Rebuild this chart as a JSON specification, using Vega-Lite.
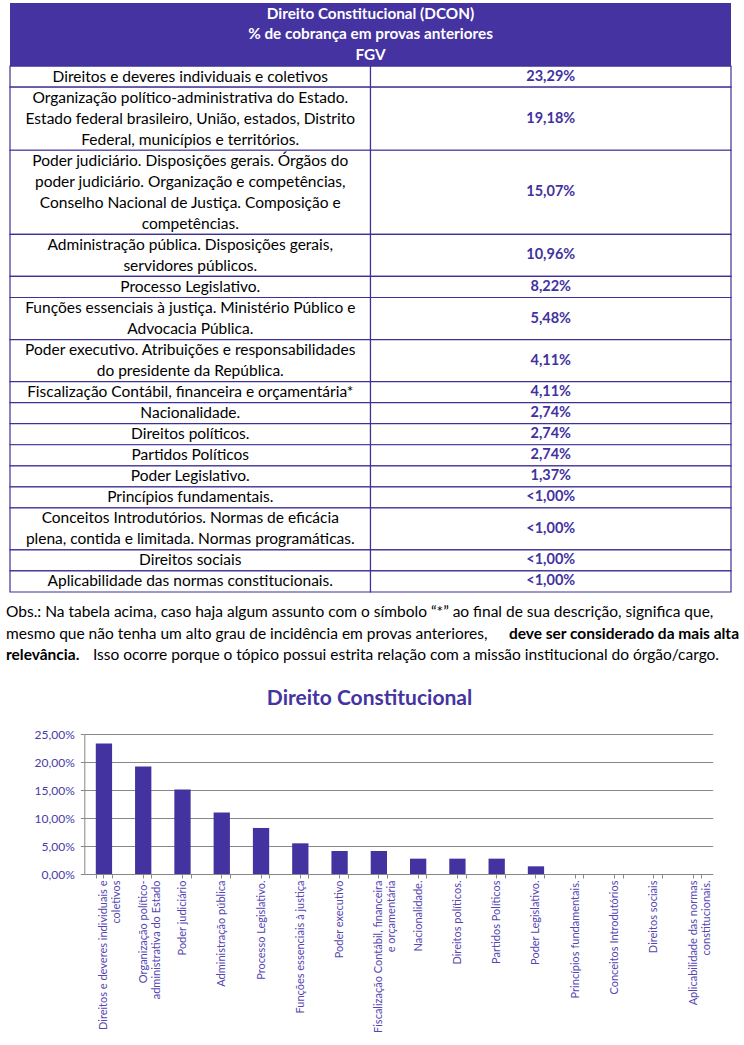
{
  "$schema": "https://vega.github.io/schema/vega-lite/v6.json",
  "background": "white",
  "padding": {"left": 0, "top": 3, "right": 0, "bottom": 0},
  "bounds": "flush",
  "spacing": 0,
  "config": {
    "view": {"stroke": null},
    "locale": {"number": {"decimal": ",", "thousands": ".", "grouping": [3], "currency": ["R$", ""]}}
  },
  "datasets": {
    "rows": [
      {"ord": 0, "part": "header", "lines": ["Direito Constitucional (DCON)", "% de cobrança em provas anteriores", "FGV"]},
      {"ord": 1, "part": "body", "lines": ["Direitos e deveres individuais e coletivos"], "pctText": "23,29%", "pct": 0.2329, "label": "Direitos e deveres individuais e|coletivos"},
      {"ord": 2, "part": "body", "lines": ["Organização político-administrativa do Estado.", "Estado federal brasileiro, União, estados, Distrito", "Federal, municípios e territórios."], "pctText": "19,18%", "pct": 0.1918, "label": "Organização político-|administrativa do Estado"},
      {"ord": 3, "part": "body", "lines": ["Poder judiciário. Disposições gerais. Órgãos do", "poder judiciário. Organização e competências,", "Conselho Nacional de Justiça. Composição e", "competências."], "pctText": "15,07%", "pct": 0.1507, "label": "Poder judiciário"},
      {"ord": 4, "part": "body", "lines": ["Administração pública. Disposições gerais,", "servidores públicos."], "pctText": "10,96%", "pct": 0.1096, "label": "Administração pública"},
      {"ord": 5, "part": "body", "lines": ["Processo Legislativo."], "pctText": "8,22%", "pct": 0.0822, "label": "Processo Legislativo."},
      {"ord": 6, "part": "body", "lines": ["Funções essenciais à justiça. Ministério Público e", "Advocacia Pública."], "pctText": "5,48%", "pct": 0.0548, "label": "Funções essenciais à justiça"},
      {"ord": 7, "part": "body", "lines": ["Poder executivo. Atribuições e responsabilidades", "do presidente da República."], "pctText": "4,11%", "pct": 0.0411, "label": "Poder executivo"},
      {"ord": 8, "part": "body", "lines": ["Fiscalização Contábil, financeira e orçamentária*"], "pctText": "4,11%", "pct": 0.0411, "label": "Fiscalização Contábil, financeira|e orçamentária"},
      {"ord": 9, "part": "body", "lines": ["Nacionalidade."], "pctText": "2,74%", "pct": 0.0274, "label": "Nacionalidade."},
      {"ord": 10, "part": "body", "lines": ["Direitos políticos."], "pctText": "2,74%", "pct": 0.0274, "label": "Direitos políticos."},
      {"ord": 11, "part": "body", "lines": ["Partidos Políticos"], "pctText": "2,74%", "pct": 0.0274, "label": "Partidos Políticos"},
      {"ord": 12, "part": "body", "lines": ["Poder Legislativo."], "pctText": "1,37%", "pct": 0.0137, "label": "Poder Legislativo."},
      {"ord": 13, "part": "body", "lines": ["Princípios fundamentais."], "pctText": "<1,00%", "pct": 0, "label": "Princípios fundamentais."},
      {"ord": 14, "part": "body", "lines": ["Conceitos Introdutórios. Normas de eficácia", "plena, contida e limitada. Normas programáticas."], "pctText": "<1,00%", "pct": 0, "label": "Conceitos Introdutórios"},
      {"ord": 15, "part": "body", "lines": ["Direitos sociais"], "pctText": "<1,00%", "pct": 0, "label": "Direitos sociais"},
      {"ord": 16, "part": "body", "lines": ["Aplicabilidade das normas constitucionais."], "pctText": "<1,00%", "pct": 0, "label": "Aplicabilidade das normas|constitucionais."}
    ],
    "obs": [
      {"line": 1, "seg": 1, "emph": false, "text": "Obs.: Na tabela acima, caso haja algum assunto com o símbolo “*” ao final de sua descrição, significa que,"},
      {"line": 2, "seg": 1, "emph": false, "text": "mesmo que não tenha um alto grau de incidência em provas anteriores,"},
      {"line": 2, "seg": 2, "emph": true, "text": "deve ser considerado da mais alta"},
      {"line": 3, "seg": 1, "emph": true, "text": "relevância."},
      {"line": 3, "seg": 2, "emph": false, "text": "Isso ocorre porque o tópico possui estrita relação com a missão institucional do órgão/cargo."}
    ]
  },
  "vconcat": [
    {
      "width": 725,
      "height": 589,
      "data": {"name": "rows"},
      "transform": [
        {"calculate": "length(datum.lines)", "as": "n"},
        {"window": [{"op": "sum", "field": "n", "as": "end"}], "sort": [{"field": "ord"}], "frame": [null, 0]},
        {"calculate": "datum.end - datum.n", "as": "start"},
        {"calculate": "datum.start + 0.5", "as": "firstLine"},
        {"calculate": "(datum.start + datum.end) / 2", "as": "mid"}
      ],
      "layer": [
        {
          "transform": [{"filter": "datum.part === 'header'"}],
          "mark": {"type": "rect", "fill": "#4433A0"},
          "encoding": {
            "x": {"datum": 0, "type": "quantitative", "scale": {"domain": [0, 2], "range": [4, 725], "zero": false, "nice": false}, "axis": null},
            "x2": {"datum": 2},
            "y": {"field": "start", "type": "quantitative", "scale": {"domain": [0, 28], "range": [0, 589], "zero": false, "nice": false}, "axis": null},
            "y2": {"field": "end"}
          }
        },
        {
          "transform": [{"filter": "datum.part === 'body'"}],
          "mark": {"type": "rect", "fill": "white", "stroke": "#3F3096", "strokeWidth": 1.2},
          "encoding": {
            "x": {"datum": 0, "type": "quantitative", "scale": {"domain": [0, 2], "range": [4, 725], "zero": false, "nice": false}, "axis": null},
            "x2": {"datum": 1},
            "y": {"field": "start", "type": "quantitative", "scale": {"domain": [0, 28], "range": [0, 589], "zero": false, "nice": false}, "axis": null},
            "y2": {"field": "end"}
          }
        },
        {
          "transform": [{"filter": "datum.part === 'body'"}],
          "mark": {"type": "rect", "fill": "white", "stroke": "#3F3096", "strokeWidth": 1.2},
          "encoding": {
            "x": {"datum": 1, "type": "quantitative", "scale": {"domain": [0, 2], "range": [4, 725], "zero": false, "nice": false}, "axis": null},
            "x2": {"datum": 2},
            "y": {"field": "start", "type": "quantitative", "scale": {"domain": [0, 28], "range": [0, 589], "zero": false, "nice": false}, "axis": null},
            "y2": {"field": "end"}
          }
        },
        {
          "transform": [{"filter": "datum.part === 'header'"}],
          "mark": {"type": "text", "align": "center", "baseline": "middle", "font": "Lato", "fontSize": 15.3, "fontWeight": "bold", "lineHeight": 20.5, "color": "white"},
          "encoding": {
            "x": {"datum": 1, "type": "quantitative", "scale": {"domain": [0, 2], "range": [4, 725], "zero": false, "nice": false}, "axis": null},
            "y": {"field": "firstLine", "type": "quantitative", "scale": {"domain": [0, 28], "range": [0, 589], "zero": false, "nice": false}, "axis": null},
            "text": {"field": "lines"}
          }
        },
        {
          "transform": [{"filter": "datum.part === 'body'"}],
          "mark": {"type": "text", "align": "center", "baseline": "middle", "font": "Lato", "fontSize": 15.5, "lineHeight": 21, "color": "black"},
          "encoding": {
            "x": {"datum": 0.5, "type": "quantitative", "scale": {"domain": [0, 2], "range": [4, 725], "zero": false, "nice": false}, "axis": null},
            "y": {"field": "firstLine", "type": "quantitative", "scale": {"domain": [0, 28], "range": [0, 589], "zero": false, "nice": false}, "axis": null},
            "text": {"field": "lines"}
          }
        },
        {
          "transform": [{"filter": "datum.part === 'body'"}],
          "mark": {"type": "text", "align": "center", "baseline": "middle", "font": "Lato", "fontSize": 14.5, "fontWeight": "bold", "color": "#4232A0"},
          "encoding": {
            "x": {"datum": 1.5, "type": "quantitative", "scale": {"domain": [0, 2], "range": [4, 725], "zero": false, "nice": false}, "axis": null},
            "y": {"field": "mid", "type": "quantitative", "scale": {"domain": [0, 28], "range": [0, 589], "zero": false, "nice": false}, "axis": null},
            "text": {"field": "pctText"}
          }
        }
      ]
    },
    {
      "width": 733,
      "height": 142,
      "data": {"name": "obs"},
      "layer": [
        {
          "transform": [{"filter": "datum.seg === 1 && !datum.emph"}],
          "mark": {"type": "text", "align": "left", "baseline": "middle", "font": "Lato", "fontSize": 15.5, "color": "black"},
          "encoding": {
            "x": {"datum": 0, "type": "quantitative", "scale": {"domain": [0, 1], "range": [0, 733], "zero": false, "nice": false}, "axis": null},
            "y": {"field": "line", "type": "ordinal", "scale": {"type": "point", "domain": [1, 2, 3], "range": [20, 63], "padding": 0}, "axis": null},
            "text": {"field": "text"}
          }
        },
        {
          "transform": [{"filter": "datum.seg === 1 && datum.emph"}],
          "mark": {"type": "text", "align": "left", "baseline": "middle", "font": "Lato", "fontSize": 15.5, "fontWeight": "bold", "color": "black"},
          "encoding": {
            "x": {"datum": 0, "type": "quantitative", "scale": {"domain": [0, 1], "range": [0, 733], "zero": false, "nice": false}, "axis": null},
            "y": {"field": "line", "type": "ordinal", "scale": {"type": "point", "domain": [1, 2, 3], "range": [20, 63], "padding": 0}, "axis": null},
            "text": {"field": "text"}
          }
        },
        {
          "transform": [{"filter": "datum.seg === 2 && datum.emph"}],
          "mark": {"type": "text", "align": "right", "baseline": "middle", "font": "Lato", "fontSize": 15.5, "fontWeight": "bold", "color": "black"},
          "encoding": {
            "x": {"datum": 1, "type": "quantitative", "scale": {"domain": [0, 1], "range": [0, 733], "zero": false, "nice": false}, "axis": null},
            "y": {"field": "line", "type": "ordinal", "scale": {"type": "point", "domain": [1, 2, 3], "range": [20, 63], "padding": 0}, "axis": null},
            "text": {"field": "text"}
          }
        },
        {
          "transform": [{"filter": "datum.seg === 2 && !datum.emph"}],
          "mark": {"type": "text", "align": "left", "baseline": "middle", "font": "Lato", "fontSize": 15.5, "color": "black", "dx": 87},
          "encoding": {
            "x": {"datum": 0, "type": "quantitative", "scale": {"domain": [0, 1], "range": [0, 733], "zero": false, "nice": false}, "axis": null},
            "y": {"field": "line", "type": "ordinal", "scale": {"type": "point", "domain": [1, 2, 3], "range": [20, 63], "padding": 0}, "axis": null},
            "text": {"field": "text"}
          }
        }
      ]
    },
    {
      "width": 727,
      "height": 140,
      "title": {"text": "Direito Constitucional", "font": "Lato", "fontSize": 21, "fontWeight": "bold", "color": "#4433A0", "anchor": "middle", "offset": 19},
      "data": {"name": "rows"},
      "transform": [{"filter": "datum.part === 'body'"}],
      "encoding": {
        "y": {
          "field": "pct", "type": "quantitative",
          "scale": {"domain": [0, 0.25], "nice": false},
          "axis": {"title": null, "format": ".2%", "values": [0, 0.05, 0.1, 0.15, 0.2, 0.25], "labelOverlap": false, "offset": -78.3, "grid": true, "gridColor": "#888888", "gridWidth": 1, "domainColor": "#888888", "tickColor": "#888888", "tickSize": 4, "labelPadding": 6, "labelFont": "Lato", "labelFontSize": 12, "labelColor": "#4A3AA8"}
        }
      },
      "layer": [
        {
          "mark": {"type": "bar", "color": "#4333A0"},
          "encoding": {
            "x": {
              "field": "label", "type": "nominal", "sort": null,
              "scale": {"range": [78.3, 706.7], "paddingInner": 0.585, "paddingOuter": 0.2925},
              "axis": {"title": null, "orient": "bottom", "labelAngle": -90, "labelExpr": "split(datum.label, '|')", "labelFont": "Lato", "labelFontSize": 11, "labelColor": "#5445B2", "labelLineHeight": 13, "labelLimit": 300, "labelPadding": 2, "tickBand": "extent", "tickSize": 4, "tickColor": "#888888", "domainColor": "#888888", "grid": false}
            }
          }
        },
        {
          "mark": {"type": "bar", "opacity": 0},
          "encoding": {
            "x": {
              "field": "label", "type": "nominal", "sort": null,
              "scale": {"range": [78.3, 706.7], "paddingInner": 0.585, "paddingOuter": 0.2925},
              "axis": {"title": null, "orient": "bottom", "labels": false, "domain": false, "grid": false, "ticks": true, "tickSize": 4, "tickColor": "#888888"}
            }
          }
        }
      ],
      "resolve": {"axis": {"x": "independent"}}
    }
  ]
}
